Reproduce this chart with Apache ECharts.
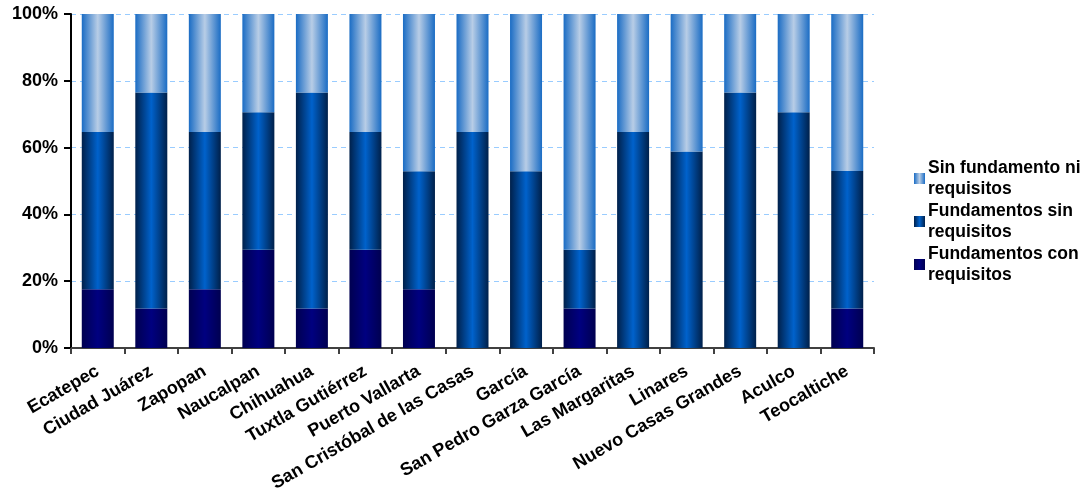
<!DOCTYPE html>
<html>
<head>
<meta charset="utf-8">
<script src="https://cdn.jsdelivr.net/npm/echarts@6/dist/echarts.min.js"></script>
<style>html,body{margin:0;padding:0;background:#fff}#c{width:1088px;height:489px}</style>
</head>
<body>
<div id="c"></div>
<script>
var categories = ['Ecatepec','Ciudad Juárez','Zapopan','Naucalpan','Chihuahua','Tuxtla Gutiérrez','Puerto Vallarta','San Cristóbal de las Casas','García','San Pedro Garza García','Las Margaritas','Linares','Nuevo Casas Grandes','Aculco','Teocaltiche'];
var conRequisitos = [17.6, 11.8, 17.6, 29.4, 11.8, 29.4, 17.6, 0, 0, 11.8, 0, 0, 0, 0, 11.8];
var sinRequisitos = [47.1, 64.7, 47.1, 41.2, 64.7, 35.3, 35.3, 64.7, 52.9, 17.6, 64.7, 58.8, 76.5, 70.6, 41.2];
var sinFundamento = [35.3, 23.5, 35.3, 29.4, 23.5, 35.3, 47.1, 35.3, 47.1, 70.6, 35.3, 41.2, 23.5, 29.4, 47.1];
var seriesNames = ['Fundamentos con requisitos','Fundamentos sin requisitos','Sin fundamento ni requisitos'];
var legendLabels = {
  'Sin fundamento ni requisitos': 'Sin fundamento ni\nrequisitos',
  'Fundamentos sin requisitos': 'Fundamentos sin\nrequisitos',
  'Fundamentos con requisitos': 'Fundamentos con\nrequisitos'
};
function hgrad(edge, center){
  return {type:'linear',x:0,y:0,x2:1,y2:0,colorStops:[
    {offset:0,color:edge},{offset:0.5,color:center},{offset:1,color:edge}]};
}
var font = 'Arial, "Liberation Sans", sans-serif';
var chart = echarts.init(document.getElementById('c'));
chart.setOption({
  backgroundColor:'#ffffff',
  animation:false,
  grid:{left:71,right:214,top:14,bottom:141,containLabel:false,outerBoundsMode:'none'},
  legend:{
    orient:'vertical', left:909, top:152,
    data:[seriesNames[2],seriesNames[1],seriesNames[0]],
    icon:'rect', itemWidth:11, itemHeight:11, itemGap:0,
    formatter:function(n){return legendLabels[n];},
    textStyle:{fontFamily:font,fontSize:17.5,fontWeight:'bold',color:'#000',lineHeight:21.5,padding:[0,0,0,-2]}
  },
  xAxis:{
    type:'category', data:categories,
    axisLine:{lineStyle:{color:'#404040',width:2}},
    axisTick:{show:true,length:6,lineStyle:{color:'#404040',width:2}},
    axisLabel:{interval:0,rotate:30,margin:22,color:'#000',fontFamily:font,fontSize:18,fontWeight:'bold'}
  },
  yAxis:{
    type:'value', min:0, max:100, interval:20,
    axisLine:{show:true,lineStyle:{color:'#000',width:2}},
    axisTick:{show:true,length:7,lineStyle:{color:'#000',width:2}},
    axisLabel:{formatter:'{value}%',margin:13,color:'#000',fontFamily:font,fontSize:18,fontWeight:'bold'},
    splitLine:{lineStyle:{color:'#99ccff',type:[5,4],width:1}}
  },
  series:[
    {name:seriesNames[0],type:'bar',stack:'t',data:conRequisitos,barWidth:32,
     itemStyle:{color:hgrad('#000050','#000080')}},
    {name:seriesNames[1],type:'bar',stack:'t',data:sinRequisitos,barWidth:32,
     itemStyle:{color:hgrad('#00204a','#0062cc')}},
    {name:seriesNames[2],type:'bar',stack:'t',data:sinFundamento,barWidth:32,
     itemStyle:{color:hgrad('#1a6cc4','#b8cde6')}}
  ]
});
</script>
</body>
</html>
